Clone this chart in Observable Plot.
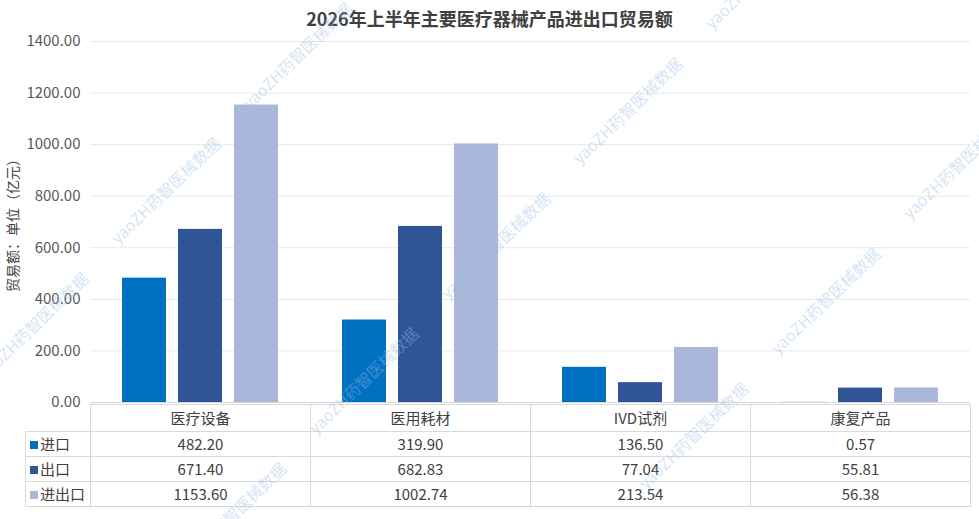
<!DOCTYPE html>
<html>
<head>
<meta charset="utf-8">
<script src="https://cdn.jsdelivr.net/npm/d3@7"></script>
<script src="https://cdn.jsdelivr.net/npm/@observablehq/plot@0.6"></script>
<style>
  html, body { margin: 0; padding: 0; background: #fff; }
  #wrap { position: relative; width: 979px; height: 519px; overflow: hidden; font-family: "Noto Sans CJK SC", "Noto Sans", sans-serif; }
  #title { position: absolute; left: 0; top: 6px; width: 979px; text-align: center; font-size: 18px; font-weight: bold; color: #404040; line-height: 24px; }
  #chart { position: absolute; left: 0; top: 0; }
  #tbl { position: absolute; left: 25px; top: 404px; border-collapse: collapse; table-layout: fixed; font-size: 15px; color: #404040; }
  #tbl td { border: 1px solid #d9d9d9; text-align: center; padding: 0; line-height: 20px; }
  #tbl td.lab { text-align: left; padding-left: 4px; white-space: nowrap; }
  #tbl td.blank { border-top: none; border-left: none; }
  #tbl .sw { display: inline-block; width: 8px; height: 8px; margin-right: 2px; vertical-align: 1px; }
  .wm { position: absolute; font-size: 16px; color: rgba(150,190,232,0.42); white-space: nowrap; transform: translate(-50%,-50%) rotate(-44deg); pointer-events: none; }
  svg [aria-label="y-axis label"] text { font-size: 14px; fill: #404040; }
</style>
</head>
<body>
<div id="wrap">
  <div id="chart"></div>
  <div id="title"></div>
  <table id="tbl"></table>
</div>
<script>
const titleText = "2026年上半年主要医疗器械产品进出口贸易额";
const yLabel = "贸易额：单位（亿元）";
const categories = ["医疗设备", "医用耗材", "IVD试剂", "康复产品"];
const series = ["进口", "出口", "进出口"];
const importValues = [482.20, 319.90, 136.50, 0.57];
const exportValues = [671.40, 682.83, 77.04, 55.81];
const totalValues = [1153.60, 1002.74, 213.54, 56.38];
const yTicks = [0, 200, 400, 600, 800, 1000, 1200, 1400];
const colors = ["#0070C0", "#2F5597", "#A9B7DA"];
const watermark = "yaoZH药智医械数据";

const seriesValues = [importValues, exportValues, totalValues];
const data = [];
categories.forEach((c, i) => {
  series.forEach((s, j) => data.push({category: c, series: s, value: seriesValues[j][i]}));
});

document.getElementById("title").textContent = titleText;

const chart = Plot.plot({
  width: 979,
  height: 418,
  marginTop: 41,
  marginBottom: 16,
  marginLeft: 90,
  marginRight: 9,
  style: {fontFamily: "'Noto Sans CJK SC', 'Noto Sans', sans-serif", fontSize: "15px", color: "#595959", background: "transparent", overflow: "visible"},
  fx: {domain: categories, padding: 0, axis: null},
  x: {domain: series, paddingInner: 0.214, paddingOuter: 0.571, axis: null},
  y: {
    domain: [0, 1400],
    ticks: yTicks,
    tickFormat: d3.format(".2f"),
    tickSize: 0,
    tickPadding: 10,
    label: yLabel,
    labelAnchor: "center",
    labelArrow: "none",
    labelOffset: 82
  },
  color: {domain: series, range: colors},
  marks: [
    Plot.ruleY(yTicks.slice(1), {stroke: "#e8e8e8", strokeWidth: 1}),
    Plot.barY(data, {fx: "category", x: "series", y: "value", fill: "series"}),
    Plot.ruleY([0], {stroke: "#d6d6d6", strokeWidth: 1})
  ]
});
document.getElementById("chart").appendChild(chart);

// data table
const tbl = d3.select("#tbl");
const colg = tbl.append("colgroup");
colg.append("col").style("width", "65px");
categories.forEach(() => colg.append("col").style("width", "220px"));
const head = tbl.append("tr").style("height", "27px");
head.append("td").attr("class", "blank");
categories.forEach(c => head.append("td").text(c));
series.forEach((s, j) => {
  const tr = tbl.append("tr").style("height", "25px");
  const lab = tr.append("td").attr("class", "lab");
  lab.append("span").attr("class", "sw").style("background", colors[j]);
  lab.append("span").text(s);
  seriesValues[j].forEach(v => tr.append("td").text(d3.format(".2f")(v)));
});

// watermark
const wrap = document.getElementById("wrap");
const wmCenters = [
  [759, -25], [297, 55], [627, 110], [957, 165],
  [165, 190], [495, 245], [825, 300],
  [33, 325], [363, 380], [693, 435],
  [231, 515]
];
wmCenters.forEach(([x, y]) => {
  const d = document.createElement("div");
  d.className = "wm";
  d.style.left = x + "px";
  d.style.top = y + "px";
  d.textContent = watermark;
  wrap.appendChild(d);
});
</script>
</body>
</html>
